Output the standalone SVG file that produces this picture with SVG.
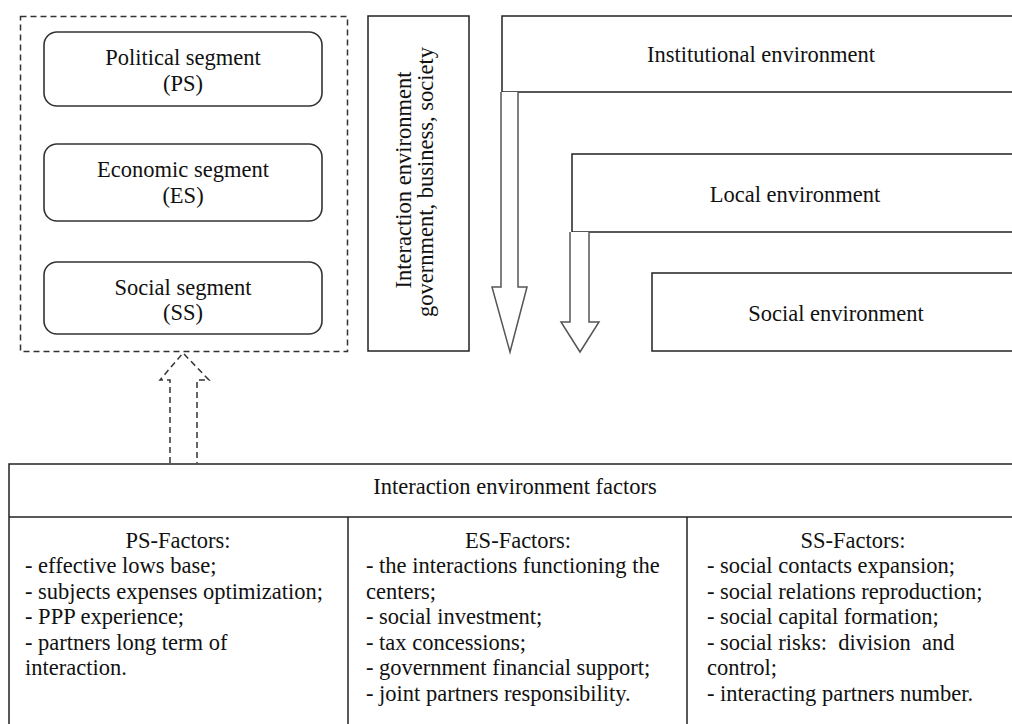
<svg xmlns="http://www.w3.org/2000/svg" width="1012" height="724" viewBox="0 0 1012 724">
<style>
text{font-family:"Liberation Serif","Times New Roman",serif;font-size:22.5px;fill:#111;}
.c{text-anchor:middle;}
.box{fill:#fff;stroke:#222;stroke-width:1.5;}
.seg{fill:#fff;stroke:#333;stroke-width:1.6;}
.dash{fill:none;stroke:#333;stroke-width:1.5;stroke-dasharray:6,4;}
.arr{fill:#fff;stroke:#555;stroke-width:1.5;stroke-linejoin:miter;}
.ln{stroke:#222;stroke-width:1.5;}
</style>
<rect width="1012" height="724" fill="#fff"/>
<g id="segments-frame">
<rect class="dash" x="20.5" y="16.5" width="327" height="335"/>
</g>
<g id="node-ps">
<rect class="seg" x="44" y="32" width="278" height="74" rx="13"/>
<text class="c" x="183" y="64.5">Political segment</text>
<text class="c" x="183" y="90.5">(PS)</text>
</g>
<g id="node-es">
<rect class="seg" x="44" y="144" width="278" height="77" rx="13"/>
<text class="c" x="183" y="177">Economic segment</text>
<text class="c" x="183" y="203">(ES)</text>
</g>
<g id="node-ss">
<rect class="seg" x="44" y="262" width="278" height="72" rx="13"/>
<text class="c" x="183" y="295">Social segment</text>
<text class="c" x="183" y="320">(SS)</text>
</g>
<g id="node-interaction-env">
<rect class="box" x="368" y="16" width="101" height="335"/>
<text class="c" transform="translate(411,180) rotate(-90)">Interaction environment</text>
<text class="c" transform="translate(433,182) rotate(-90)">government, business, society</text>
</g>
<g id="node-institutional">
<rect class="box" x="502" y="16" width="600" height="76"/>
<text class="c" x="761" y="62">Institutional environment</text>
</g>
<g id="node-local">
<rect class="box" x="572" y="154" width="500" height="78"/>
<text class="c" x="795" y="201.5">Local environment</text>
</g>
<g id="node-social">
<rect class="box" x="652" y="273" width="450" height="78"/>
<text class="c" x="836" y="321">Social environment</text>
</g>
<g id="connectors">
<path class="arr" d="M501,92 L501,287 L492,287 L510,352 L527,287 L518,287 L518,92"/>
<path class="arr" d="M570,232 L570,322 L561,322 L580,352 L599,322 L589,322 L589,232"/>
<path class="dash" d="M170,463 L170,380 L160,380 L183,353 L209,380 L197,380 L197,463"/>
</g>
<g id="node-factors">
<rect class="box" x="9" y="464" width="1100" height="300"/>
<line class="ln" x1="9" y1="517" x2="1012" y2="517"/>
<line class="ln" x1="348" y1="517" x2="348" y2="724"/>
<line class="ln" x1="687" y1="517" x2="687" y2="724"/>
<text class="c" x="515" y="494">Interaction environment factors</text>
</g>
<g id="node-ps-factors">
<text class="c" x="178" y="547.5">PS-Factors:</text>
<text x="25" y="573">- effective lows base;</text>
<text x="25" y="598.5">- subjects expenses optimization;</text>
<text x="25" y="624">- PPP experience;</text>
<text x="25" y="649.5">- partners long term of</text>
<text x="25" y="675">interaction.</text>
</g>
<g id="node-es-factors">
<text class="c" x="518" y="547.5">ES-Factors:</text>
<text x="366" y="573">- the interactions functioning the</text>
<text x="366" y="598.5">centers;</text>
<text x="366" y="624">- social investment;</text>
<text x="366" y="649.5">- tax concessions;</text>
<text x="366" y="675">- government financial support;</text>
<text x="366" y="700.5">- joint partners responsibility.</text>
</g>
<g id="node-ss-factors">
<text class="c" x="853" y="547.5">SS-Factors:</text>
<text x="707" y="573">- social contacts expansion;</text>
<text x="707" y="598.5">- social relations reproduction;</text>
<text x="707" y="624">- social capital formation;</text>
<text x="707" y="649.5" xml:space="preserve" style="white-space:pre">- social risks:  division  and</text>
<text x="707" y="675">control;</text>
<text x="707" y="700.5">- interacting partners number.</text>
</g>
</svg>
